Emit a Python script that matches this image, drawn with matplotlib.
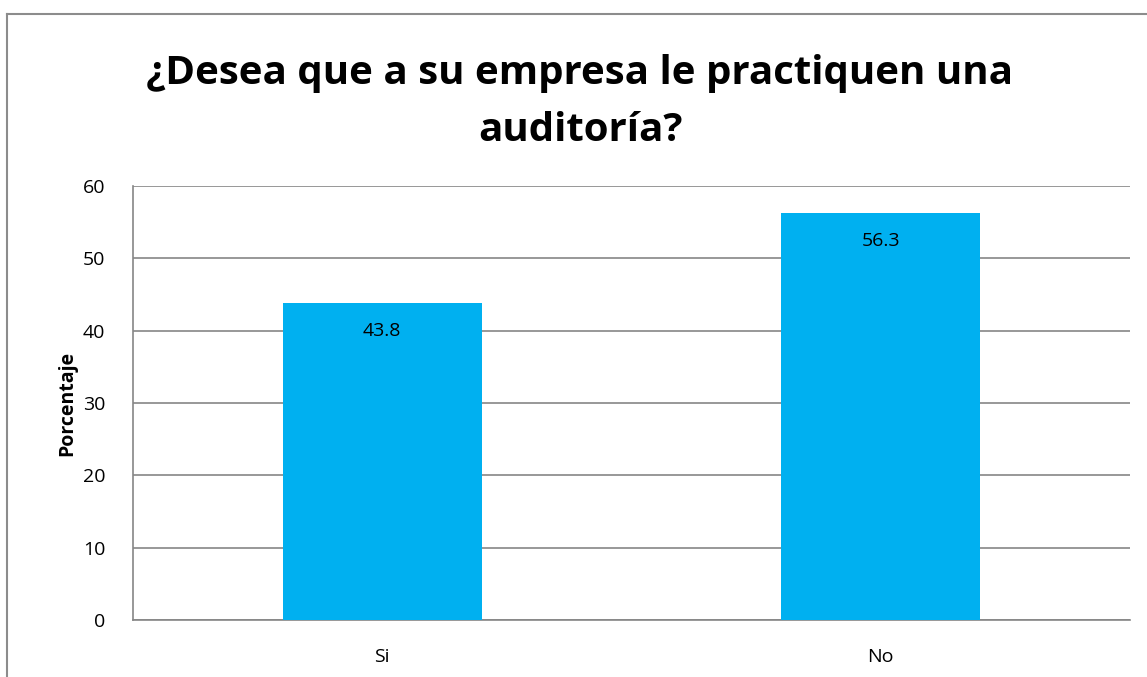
import matplotlib.pyplot as plt
from matplotlib.lines import Line2D

categorias = ['Si', 'No']
porcentajes = [43.8, 56.3]
titulo = '¿Desea que a su empresa le practiquen una\nauditoría?'

plt.rcParams['font.family'] = ['Open Sans', 'DejaVu Sans']

fig = plt.figure(figsize=(11.47, 6.77), dpi=100)
W, H = 1147, 677
ax = fig.add_axes([133 / W, 1 - 620 / H, (1130 - 133) / W, (620 - 186) / H])

x = range(len(categorias))
bars = ax.bar(x, porcentajes, width=0.4, color='#00B0F0', zorder=3)
for b, v in zip(bars, porcentajes):
    ax.text(b.get_x() + b.get_width() / 2, v - 2.6, f'{v:.1f}',
            ha='center', va='top', fontsize=14)

ax.set_xlim(-0.5, 1.5)
ax.set_ylim(0, 60)
ax.set_yticks(range(0, 61, 10))
ax.set_xticks(list(x))
ax.set_xticklabels(categorias)
ax.tick_params(length=0, labelsize=14)
ax.tick_params(axis='y', pad=20)
ax.tick_params(axis='x', pad=20)
ax.yaxis.grid(True, color='#868686', linewidth=1.2, zorder=0)
for s in ['top', 'right']:
    ax.spines[s].set_visible(False)
for s in ['left', 'bottom']:
    ax.spines[s].set_color('#868686')
    ax.spines[s].set_linewidth(1.2)
ax.set_ylabel('Porcentaje', fontsize=14, fontweight='bold', labelpad=4)

fig.text(580 / W, 1 - 102 / H, titulo, ha='center', va='center',
         fontsize=29, fontweight='bold', linespacing=1.6)

# marco del gráfico
fig.add_artist(Line2D([7 / W, 7 / W], [0, 1 - 14 / H], color='#8c8c8c', lw=1.5))
fig.add_artist(Line2D([7 / W, 1], [1 - 14 / H, 1 - 14 / H], color='#8c8c8c', lw=1.5))

fig.savefig('out.png', dpi=100)
